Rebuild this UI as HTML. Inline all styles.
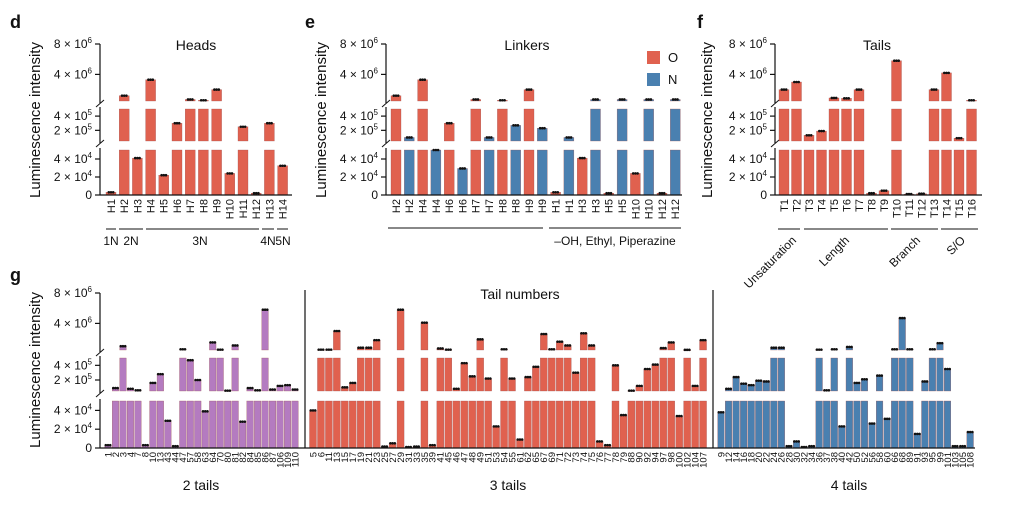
<!DOCTYPE html>
<html><head><meta charset="utf-8"><style>
body{margin:0;background:#fff;}
svg{display:block;font-family:"Liberation Sans",sans-serif;}
</style></head><body>
<svg id="fig" width="1020" height="508" viewBox="0 0 1020 508">
<g id="root"></g>
</svg>
<script>
// ---- data ----
const dLabels=["H1","H2","H3","H4","H5","H6","H7","H8","H9","H10","H11","H12","H13","H14"];
const dValues=[3e3,1.2e6,4.1e4,3.3e6,2.2e4,3e5,7e5,6e5,2e6,2.4e4,2.5e5,2e3,3e5,3.25e4];
const eLabels=["H2","H2","H4","H4","H6","H6","H7","H7","H8","H8","H9","H9","H1","H1","H3","H3","H5","H5","H10","H10","H12","H12"];
const eValues=[1.2e6,1e5,3.3e6,5e4,3e5,2.95e4,7e5,1e5,6e5,2.7e5,2e6,2.3e5,3e3,1e5,4.1e4,7e5,2e3,7e5,2.4e4,7e5,2e3,7e5];
const eTypes=["O","N","O","N","O","N","O","N","O","N","O","N","O","N","O","N","O","N","O","N","O","N"];
const fLabels=["T1","T2","T3","T4","T5","T6","T7","T8","T9","T10","T11","T12","T13","T14","T15","T16"];
const fValues=[2e6,3e6,1.3e5,1.9e5,9e5,8.5e5,2e6,2e3,4.8e3,5.8e6,1e3,1.5e3,2e6,4.2e6,9e4,6e5];
const g2Labels=["1","2","3","4","7","8","10","13","43","44","47","57","58","63","64","70","80","81","82","84","85","86","87","106","109","110"];
const g2Values=[3e3,9e4,1e6,8e4,6e4,3e3,1.6e5,2.8e5,2.9e4,2e3,6e5,4.7e5,2e5,3.9e4,1.5e6,5.5e5,5.5e4,1.1e6,2.8e4,9e4,6e4,5.8e6,7e4,1.2e5,1.3e5,7e4];
const g3Labels=["5","6","11","13","15","17","19","21","23","25","27","29","31","33","35","39","41","45","46","47","48","49","51","53","54","55","61","62","65","67","69","71","72","73","74","75","76","77","78","79","88","90","92","94","97","98","100","102","104","107"];
const g3Values=[4e4,5.5e5,5.5e5,3e6,1e5,1.6e5,8e5,8e5,1.8e6,1.5e3,5e3,5.8e6,1e3,1.5e3,4.1e6,3e3,7e5,5.5e5,8e4,4.3e5,2.5e5,1.9e6,2.2e5,2.3e4,6e5,2.2e5,9e3,2.4e5,3.8e5,2.6e6,6e5,1.6e6,1.1e6,3e5,2.7e6,1.1e6,7e3,3e3,4e5,3.5e4,5.5e4,1.2e5,3.5e5,4.1e5,7.5e5,1.5e6,3.4e4,5.2e5,1.2e5,1.8e6];
const g4Labels=["9","12","14","16","18","20","22","24","26","28","30","32","34","36","37","38","40","42","50","52","56","58","60","66","68","89","91","93","95","99","101","103","105","108"];
const g4Values=[3.8e4,8e4,2.4e5,1.5e5,1.3e5,1.9e5,1.8e5,8e5,8e5,2e3,7e3,1e3,2e3,5.5e5,6e4,6e5,2.3e4,9e5,1.6e5,2.1e5,2.6e4,2.6e5,3.1e4,6e5,4.7e6,6e5,1.5e4,1.8e5,6e5,1.4e6,3.5e5,2e3,2e3,1.7e4];
const topTicks=[8e6,4e6], midTicks=[4e5,2e5], botTicks=[4e4,2e4,0];

const RED="#e0614f", BLUE="#4a80b0", PURPLE="#b47bc0";
const NS="http://www.w3.org/2000/svg";
const root=document.getElementById('root');
function el(tag,attrs,parent,text){const e=document.createElementNS(NS,tag);for(const k in attrs)e.setAttribute(k,attrs[k]);if(text!==undefined)e.textContent=text;(parent||root).appendChild(e);return e;}

function makeScale(s){
  return {segs:[[0,5e4,s.b0,s.b1],[5e4,5e5,s.m0,s.m1],[5e5,8e6,s.t0,s.t1]],
    y(v){for(const sg of this.segs){if(v<=sg[1]&&v>=sg[0])return sg[2]+(v-sg[0])/(sg[1]-sg[0])*(sg[3]-sg[2]);}return this.segs[2][3];}};
}
function tickText(v,x,y,g){
  const t=el('text',{x:x,y:y+4,'text-anchor':'end','font-size':12,fill:'#111'},g);
  
  
  if(v===0){t.textContent='0';return;}
  const ex=Math.floor(Math.log10(v)+1e-9), m=Math.round(v/Math.pow(10,ex));
  t.textContent=m+' \u00d7 10';
  el('tspan',{dy:-5,'font-size':8},t,String(ex));
}
function yAxis(sc,ax,g){
  const ax_g=el('g',{},g);
  
  
  sc.segs.forEach((sg,i)=>{
    const yb=sg[2], yt=i===2?sg[3]:sg[3]-2;
    el('line',{x1:ax,x2:ax,y1:yb+(i===0?0:2),y2:yt,stroke:'#111','stroke-width':1.2},ax_g);
    if(i>0){el('line',{x1:ax-4,x2:ax+4,y1:yb+6,y2:yb-1,stroke:'#111','stroke-width':1},ax_g);}
  });
  [topTicks,midTicks,botTicks].forEach(arr=>arr.forEach(v=>{const y=sc.y(v);el('line',{x1:ax-5,x2:ax,y1:y,y2:y,stroke:'#111','stroke-width':1.2},ax_g);tickText(v,ax-8,y,ax_g);}));
}
function bars(sc,labels,values,colors,x0,step,w,g,fs,labY,name){
  labels.forEach((lab,i)=>{
    const v=values[i], cx=x0+i*step, col=colors(i);
    const bg=el('g',{},g);
    
    
    sc.segs.forEach(sg=>{
      if(v<=sg[0]&&sg[0]>0)return;
      const cv=Math.min(v,sg[1]);
      const y=sg[2]+(cv-sg[0])/(sg[1]-sg[0])*(sg[3]-sg[2]);
      el('rect',{x:cx-w/2,y:y,width:w,height:Math.max(0.8,sg[2]-y),fill:col,stroke:'#9a5050','stroke-width':0.3},bg);
    });
    const ty=sc.y(v);
    [-2.2,0,2.2].forEach(d=>el('circle',{cx:cx+d,cy:ty,r:1.3,fill:'#111'},bg));
    const t=el('text',{transform:`translate(${cx+fs*0.35},${labY}) rotate(-90)`,'text-anchor':'end','font-size':fs,fill:'#111'},g,lab);
    
    
  });
}
function txt(x,y,s,attrs,name){const t=el('text',Object.assign({x:x,y:y,fill:'#111'},attrs),root,s);return t;}
function hline(x1,x2,y,name){const l=el('line',{x1:x1,x2:x2,y1:y,y2:y,stroke:'#111','stroke-width':1});}

const scTop=makeScale({b0:195,b1:150,m0:141,m1:109,t0:101,t1:44});
const scG=makeScale({b0:448,b1:401,m0:391,m1:358,t0:350,t1:293});

// panel d
const gd=el('g',{});
bars(scTop,dLabels,dValues,()=>RED,111,13.2,10,gd,11,199,'heads');
yAxis(scTop,100,gd);
el('line',{x1:100,x2:292,y1:195,y2:195,stroke:'#111','stroke-width':1.2},gd);
txt(10,28,'d',{'font-size':18,'font-weight':'bold'},'panel-letter-d');
txt(196,50,'Heads',{'font-size':14,'text-anchor':'middle'},'panel-d-title');
txt(0,0,'Luminescence intensity',{'font-size':15,'text-anchor':'middle',transform:'translate(40,120) rotate(-90)'},'y-axis-title');
[[106,116,111,'1N'],[119,143,131,'2N'],[146,259,200,'3N'],[262,274,268,'4N'],[277,288,283,'5N']].forEach(a=>{hline(a[0],a[1],229,'group-line');txt(a[2],245,a[3],{'font-size':12,'text-anchor':'middle'},'group-label');});

// panel e
const ge=el('g',{});
bars(scTop,eLabels,eValues,i=>eTypes[i]==='O'?RED:BLUE,396,13.3,10,ge,11,199,'linkers');
yAxis(scTop,386,ge);
el('line',{x1:386,x2:682,y1:195,y2:195,stroke:'#111','stroke-width':1.2},ge);
txt(305,28,'e',{'font-size':18,'font-weight':'bold'},'panel-letter-e');
txt(527,50,'Linkers',{'font-size':14,'text-anchor':'middle'},'panel-e-title');
txt(0,0,'Luminescence intensity',{'font-size':15,'text-anchor':'middle',transform:'translate(326,120) rotate(-90)'},'y-axis-title');
hline(388,543,228,'group-line');hline(549,681,228,'group-line');
txt(615,245,'\u2013OH, Ethyl, Piperazine',{'font-size':12,'text-anchor':'middle'},'group-label');
const lg=el('g',{});
el('rect',{x:647,y:51,width:13,height:13,fill:RED},lg);el('rect',{x:647,y:73,width:13,height:13,fill:BLUE},lg);
el('text',{x:668,y:62,'font-size':13,fill:'#111'},lg,'O');el('text',{x:668,y:84,'font-size':13,fill:'#111'},lg,'N');

// panel f
const gf=el('g',{});
bars(scTop,fLabels,fValues,()=>RED,784,12.5,10,gf,11,199,'tails');
yAxis(scTop,775,gf);
el('line',{x1:775,x2:982,y1:195,y2:195,stroke:'#111','stroke-width':1.2},gf);
txt(697,28,'f',{'font-size':18,'font-weight':'bold'},'panel-letter-f');
txt(877,50,'Tails',{'font-size':14,'text-anchor':'middle'},'panel-f-title');
txt(0,0,'Luminescence intensity',{'font-size':15,'text-anchor':'middle',transform:'translate(712,120) rotate(-90)'},'y-axis-title');
[[778,800,797,'Unsaturation'],[804,888,850,'Length'],[891,938,921,'Branch'],[941,978,966,'S/O']].forEach(a=>{hline(a[0],a[1],229,'group-line');txt(0,0,a[3],{'font-size':12,'text-anchor':'end',transform:`translate(${a[2]},${241}) rotate(-45)`},'group-label');});

// panel g
const gg=el('g',{});
bars(scG,g2Labels,g2Values,()=>PURPLE,108,7.48,6.6,gg,9.5,452,'two-tails');
bars(scG,g3Labels,g3Values,()=>RED,313,7.96,7,gg,9.5,452,'three-tails');
bars(scG,g4Labels,g4Values,()=>BLUE,721,7.55,6.7,gg,9.5,452,'four-tails');
yAxis(scG,100,gg);
el('line',{x1:100,x2:975,y1:448,y2:448,stroke:'#111','stroke-width':1.2},gg);
el('line',{x1:305,x2:305,y1:290,y2:448,stroke:'#111','stroke-width':1.2},gg);
el('line',{x1:713,x2:713,y1:290,y2:448,stroke:'#111','stroke-width':1.2},gg);
txt(10,281,'g',{'font-size':18,'font-weight':'bold'},'panel-letter-g');
txt(520,299,'Tail numbers',{'font-size':14,'text-anchor':'middle'},'panel-g-title');
txt(0,0,'Luminescence intensity',{'font-size':15,'text-anchor':'middle',transform:'translate(40,370) rotate(-90)'},'y-axis-title');
txt(201,490,'2 tails',{'font-size':14,'text-anchor':'middle'},'group-label-2-tails');
txt(508,490,'3 tails',{'font-size':14,'text-anchor':'middle'},'group-label-3-tails');
txt(849,490,'4 tails',{'font-size':14,'text-anchor':'middle'},'group-label-4-tails');
</script>
</body></html>
